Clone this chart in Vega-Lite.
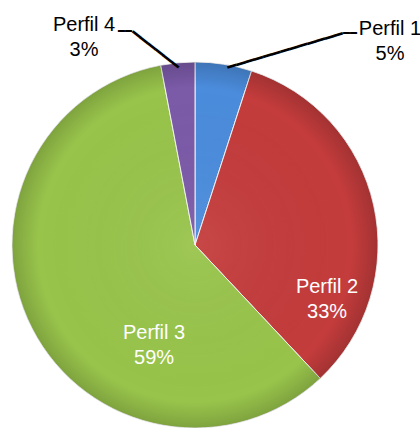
{
  "$schema": "https://vega.github.io/schema/vega-lite/v6.json",
  "width": 366,
  "height": 366,
  "autosize": {"type": "none"},
  "padding": {"left": 12, "top": 62, "right": 42, "bottom": 0},
  "background": "white",
  "view": {"stroke": null},
  "data": {
    "values": [
      {"perfil": "Perfil 1", "pct": 5, "order": 1, "label": "Perfil 1|5%"},
      {"perfil": "Perfil 2", "pct": 33, "order": 2, "label": "Perfil 2|33%"},
      {"perfil": "Perfil 3", "pct": 59, "order": 3, "label": "Perfil 3|59%"},
      {"perfil": "Perfil 4", "pct": 3, "order": 4, "label": "Perfil 4|3%"}
    ]
  },
  "layer": [
    {
      "mark": {"type": "arc", "stroke": "#f4f4f4", "strokeWidth": 1},
      "encoding": {
        "theta": {"field": "pct", "type": "quantitative", "stack": true},
        "order": {"field": "order", "type": "quantitative", "sort": "ascending"},
        "color": {
          "field": "perfil",
          "type": "nominal",
          "scale": {
            "domain": ["Perfil 1", "Perfil 2", "Perfil 3", "Perfil 4"],
            "range": ["#4b8cdc", "#c43c3c", "#98c44b", "#7b5aa8"]
          },
          "legend": null
        }
      }
    },
    {
      "data": {"values": [{"k": 1}]},
      "mark": {"type": "arc", "theta": 0, "theta2": 6.2832, "stroke": null, "fill": {"gradient": "radial", "x1": 0.5, "y1": 0.5, "r1": 0, "x2": 0.5, "y2": 0.5, "r2": 0.5, "stops": [{"offset": 0, "color": "rgba(255,255,255,0.06)"}, {"offset": 0.86, "color": "rgba(0,0,0,0)"}, {"offset": 1, "color": "rgba(0,0,0,0.17)"}]}},
      "encoding": {}
    },
    {
      "mark": {"type": "text", "radius": 178, "angle": -16.5, "dx": 5, "align": "left", "baseline": "middle", "font": "DejaVu Sans Mono", "fontSize": 15.33, "color": "#000000"},
      "encoding": {
        "theta": {"field": "pct", "type": "quantitative", "stack": true},
        "order": {"field": "order", "type": "quantitative", "sort": "ascending"},
        "text": {"condition": {"test": "datum.perfil === 'Perfil 1'", "value": "━━━━━━━━━━━━━"}, "value": ""}
      }
    },
    {
      "mark": {"type": "text", "radius": 212, "dx": 114.8, "dy": -1.6, "align": "left", "baseline": "middle", "font": "DejaVu Sans Mono", "fontSize": 11.6, "color": "#000000"},
      "encoding": {
        "theta": {"field": "pct", "type": "quantitative", "stack": true},
        "order": {"field": "order", "type": "quantitative", "sort": "ascending"},
        "text": {"condition": {"test": "datum.perfil === 'Perfil 1'", "value": "━━"}, "value": ""}
      }
    },
    {
      "mark": {"type": "text", "radius": 178, "angle": 38, "align": "right", "baseline": "middle", "font": "DejaVu Sans Mono", "fontSize": 16.17, "color": "#000000"},
      "encoding": {
        "theta": {"field": "pct", "type": "quantitative", "stack": true},
        "order": {"field": "order", "type": "quantitative", "sort": "ascending"},
        "text": {"condition": {"test": "datum.perfil === 'Perfil 4'", "value": "━━━━━━"}, "value": ""}
      }
    },
    {
      "mark": {"type": "text", "radius": 210, "dx": -43.2, "dy": -3.9, "align": "right", "baseline": "middle", "font": "DejaVu Sans Mono", "fontSize": 11.6, "color": "#000000"},
      "encoding": {
        "theta": {"field": "pct", "type": "quantitative", "stack": true},
        "order": {"field": "order", "type": "quantitative", "sort": "ascending"},
        "text": {"condition": {"test": "datum.perfil === 'Perfil 4'", "value": "━━"}, "value": ""}
      }
    },
    {
      "mark": {"type": "text", "radius": 212, "dx": 161.8, "dy": -6.6, "fontSize": 20, "lineHeight": 25, "font": "Liberation Sans", "lineBreak": "|", "align": "center", "baseline": "middle", "color": "#000000"},
      "encoding": {
        "theta": {"field": "pct", "type": "quantitative", "stack": true},
        "order": {"field": "order", "type": "quantitative", "sort": "ascending"},
        "text": {"condition": {"test": "datum.perfil === 'Perfil 1'", "field": "label", "type": "nominal"}, "value": ""}
      }
    },
    {
      "mark": {"type": "text", "radius": 140, "dx": -4.6, "dy": 72.5, "fontSize": 20, "lineHeight": 25, "font": "Liberation Sans", "lineBreak": "|", "align": "center", "baseline": "middle", "color": "#ffffff"},
      "encoding": {
        "theta": {"field": "pct", "type": "quantitative", "stack": true},
        "order": {"field": "order", "type": "quantitative", "sort": "ascending"},
        "text": {"condition": {"test": "datum.perfil === 'Perfil 2'", "field": "label", "type": "nominal"}, "value": ""}
      }
    },
    {
      "mark": {"type": "text", "radius": 50, "dx": 3.6, "dy": 65.3, "fontSize": 20, "lineHeight": 25, "font": "Liberation Sans", "lineBreak": "|", "align": "center", "baseline": "middle", "color": "#ffffff"},
      "encoding": {
        "theta": {"field": "pct", "type": "quantitative", "stack": true},
        "order": {"field": "order", "type": "quantitative", "sort": "ascending"},
        "text": {"condition": {"test": "datum.perfil === 'Perfil 3'", "field": "label", "type": "nominal"}, "value": ""}
      }
    },
    {
      "mark": {"type": "text", "radius": 210, "dx": -91.2, "dy": -10.9, "fontSize": 20, "lineHeight": 25, "font": "Liberation Sans", "lineBreak": "|", "align": "center", "baseline": "middle", "color": "#000000"},
      "encoding": {
        "theta": {"field": "pct", "type": "quantitative", "stack": true},
        "order": {"field": "order", "type": "quantitative", "sort": "ascending"},
        "text": {"condition": {"test": "datum.perfil === 'Perfil 4'", "field": "label", "type": "nominal"}, "value": ""}
      }
    }
  ]
}
